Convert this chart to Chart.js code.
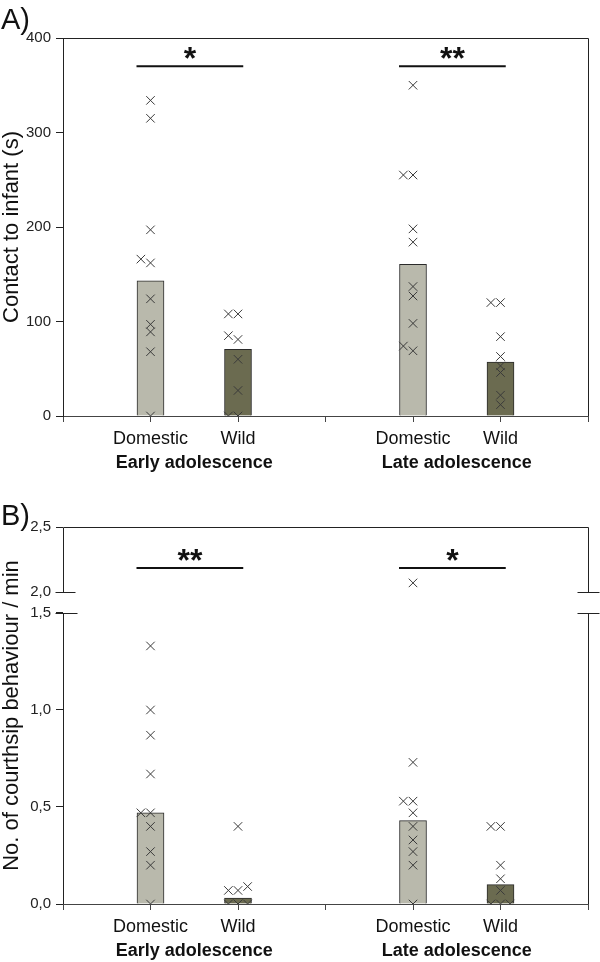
<!DOCTYPE html>
<html><head><meta charset="utf-8">
<script src="https://cdn.jsdelivr.net/npm/chart.js@4"></script>
<style>html,body{margin:0;padding:0;background:#fff;}canvas{display:block;}</style>
</head><body>
<div style="position:relative;width:600px;height:481px"><canvas id="cA"></canvas></div>
<div style="position:relative;width:600px;height:481px"><canvas id="cB"></canvas></div>
<script>
// ---------- data ----------
const groupLabels = ['Domestic', 'Wild', 'Domestic', 'Wild'];
const periodLabels = ['Early adolescence', 'Late adolescence'];

// Panel A: contact to infant (s)
const contactEarlyDomestic = [0, 68, 89, 97, 124, 162, 166, 197, 315, 334];
const contactEarlyWild = [0, 0, 27, 60, 81, 85, 108, 108];
const contactLateDomestic = [69, 74, 98, 127, 137, 184, 198, 255, 255, 350];
const contactLateWild = [12, 22, 46, 53, 63, 84, 120, 120];
const contactMedians = [143, 70.5, 160.5, 57];
const contactTicks = [0, 100, 200, 300, 400];
const contactSignif = ['*', '**'];

// Panel B: courtship behaviour per min
const courtEarlyDomestic = [0, 0.20, 0.27, 0.40, 0.47, 0.47, 0.67, 0.87, 1.00, 1.33];
const courtEarlyWild = [0, 0, 0, 0, 0.07, 0.07, 0.09, 0.40];
const courtLateDomestic = [0, 0.20, 0.27, 0.33, 0.40, 0.47, 0.53, 0.53, 0.73, 2.07];
const courtLateWild = [0, 0, 0, 0.07, 0.13, 0.20, 0.40, 0.40];
const courtMedians = [0.47, 0.03, 0.43, 0.10];
const courtTicks = [0, 0.5, 1.0, 1.5, 2.0, 2.5];
const courtSignif = ['**', '*'];

// ---------- presentation ----------
const FONT = '"Liberation Sans", Arial, sans-serif';
const DOM_FILL = '#b9b9ac', WILD_FILL = '#6b6b50';
const X_POS = [1, 2, 4, 5];
const BREAK_LO = 1.5, BREAK_HI = 2.0, GAP = 0.108, UPPER = 0.67;
function tB(v) { return v <= BREAK_LO ? v : BREAK_LO + GAP + (v - BREAK_HI) * UPPER; }
const ident = v => v;

function slots(values, thr) {
  const placed = [];
  return values.map(v => {
    for (const s of [0, -1, 1]) {
      if (!placed.some(p => p.s === s && Math.abs(p.v - v) < thr)) { placed.push({ s, v }); return s; }
    }
    placed.push({ s: 0, v }); return 0;
  });
}

function decorPlugin(o) {
  return {
    id: 'decor',
    afterDraw(chart) {
      const { ctx, chartArea: a, scales } = chart;
      const xs = scales.x, ys = scales.y;
      ctx.save();
      ctx.strokeStyle = '#222'; ctx.lineWidth = 1;
      const line = (x1, y1, x2, y2) => { ctx.beginPath(); ctx.moveTo(x1, y1); ctx.lineTo(x2, y2); ctx.stroke(); };
      const L = Math.round(a.left) + 0.5, R = Math.round(a.right) + 0.5, T = Math.round(a.top) + 0.5, B = a.bottom;
      line(L, T, R, T);
      if (o.breakAxis) {
        const yHi = Math.round(ys.getPixelForValue(o.tf(BREAK_HI))) + 0.5;
        const yLo = Math.round(ys.getPixelForValue(o.tf(BREAK_LO))) + 0.5;
        line(L, T, L, yHi); line(L, yLo, L, B);
        line(R, T, R, yHi); line(R, yLo, R, B);
        line(L - 8, yHi, L + 12, yHi); line(L - 8, yLo, L + 14, yLo);
        line(R - 11, yHi, R + 11, yHi); line(R - 11, yLo, R + 11, yLo);
      } else {
        line(R, T, R, B);
      }
      // significance bars
      ctx.lineWidth = 2; ctx.strokeStyle = '#111';
      ctx.fillStyle = '#111';
      o.signif.forEach((s, i) => {
        const x1 = xs.getPixelForValue(X_POS[2 * i] - 0.16), x2 = xs.getPixelForValue(X_POS[2 * i + 1] + 0.06);
        const y = ys.getPixelForValue(o.tf(o.sigY));
        line(x1, y, x2, y);
        ctx.font = 'bold 32px ' + FONT; ctx.textAlign = 'center'; ctx.textBaseline = 'alphabetic';
        ctx.fillText(s, (x1 + x2) / 2, y + 3);
      });
      // period labels
      ctx.font = 'bold 18px ' + FONT; ctx.textAlign = 'center'; ctx.textBaseline = 'middle';
      periodLabels.forEach((p, i) => {
        ctx.fillText(p, xs.getPixelForValue((X_POS[2 * i] + X_POS[2 * i + 1]) / 2), a.bottom + 47);
      });
      // y title
      ctx.font = '22px ' + FONT;
      ctx.save();
      ctx.translate(12, (a.top + a.bottom) / 2);
      ctx.rotate(-Math.PI / 2);
      ctx.fillText(o.yTitle, 0, 0);
      ctx.restore();
      // panel letter
      ctx.font = '29px ' + FONT; ctx.textAlign = 'left'; ctx.textBaseline = 'alphabetic';
      ctx.fillText(o.letter, 1, o.letterY);
      ctx.restore();
    }
  };
}

function build(id, o) {
  const pts = [];
  o.series.forEach((vals, i) => {
    const sl = slots(vals.map(o.tf), o.thr);
    pts.push({
      type: 'scatter',
      data: vals.map((v, k) => ({ x: X_POS[i] + sl[k] * 0.11, y: o.tf(v) })),
      pointStyle: 'crossRot', pointRadius: 6, pointHoverRadius: 6,
      borderColor: '#3a3a3a', backgroundColor: '#3a3a3a', borderWidth: 1,
      showLine: false, order: 0
    });
  });
  const bars = {
    type: 'bar',
    data: X_POS.map((x, i) => ({ x, y: o.tf(o.medians[i]) })),
    backgroundColor: X_POS.map((x, i) => i % 2 ? WILD_FILL : DOM_FILL),
    borderColor: '#2a2a2a', borderWidth: 1, barThickness: 27, order: 1
  };
  return new Chart(document.getElementById(id), {
    type: 'bar',
    data: { datasets: [bars, ...pts] },
    options: {
      responsive: true, maintainAspectRatio: false, animation: false,
      layout: { padding: { top: o.top, right: 12, left: 0, bottom: 0 } },
      plugins: { legend: { display: false }, tooltip: { enabled: false } },
      scales: {
        x: {
          type: 'linear', min: 0, max: 6, offset: false,
          afterBuildTicks: s => { s.ticks = [0, 1, 2, 3, 4, 5, 6].map(v => ({ value: v })); },
          ticks: {
            autoSkip: false, maxRotation: 0, padding: 6, color: '#111',
            font: { size: 18, family: FONT },
            callback: v => { const i = X_POS.indexOf(v); return i >= 0 ? groupLabels[i] : ''; }
          },
          grid: { drawOnChartArea: false, drawTicks: true, tickLength: 6, color: '#444', offset: false },
          border: { color: '#444', width: 1 },
          afterFit: s => { s.height = o.xHeight; }
        },
        y: {
          type: 'linear', min: 0, max: o.tf(o.ticks[o.ticks.length - 1]),
          afterBuildTicks: s => { s.ticks = o.ticks.map(v => ({ value: o.tf(v) })); },
          ticks: {
            padding: 5, color: '#222', font: { size: 15, family: FONT },
            callback: (v, i) => o.fmt(o.ticks[i])
          },
          grid: { drawOnChartArea: false, drawTicks: true, tickLength: 7, color: '#222' },
          border: { display: !o.breakAxis, color: '#222', width: 1 },
          afterFit: s => { s.width = 63; }
        }
      }
    },
    plugins: [decorPlugin(o)]
  });
}

build('cA', {
  series: [contactEarlyDomestic, contactEarlyWild, contactLateDomestic, contactLateWild],
  medians: contactMedians, ticks: contactTicks, tf: ident, thr: 6.3,
  fmt: v => String(v), signif: contactSignif, sigY: 370,
  top: 38, xHeight: 65, breakAxis: false,
  yTitle: 'Contact to infant (s)', letter: 'A)', letterY: 29
});
build('cB', {
  series: [courtEarlyDomestic, courtEarlyWild, courtLateDomestic, courtLateWild],
  medians: courtMedians, ticks: courtTicks, tf: tB, thr: 0.031,
  fmt: v => v.toFixed(1).replace('.', ','), signif: courtSignif, sigY: 2.185,
  top: 46, xHeight: 58, breakAxis: true,
  yTitle: 'No. of courthsip behaviour / min', letter: 'B)', letterY: 44
});
</script>
</body></html>
